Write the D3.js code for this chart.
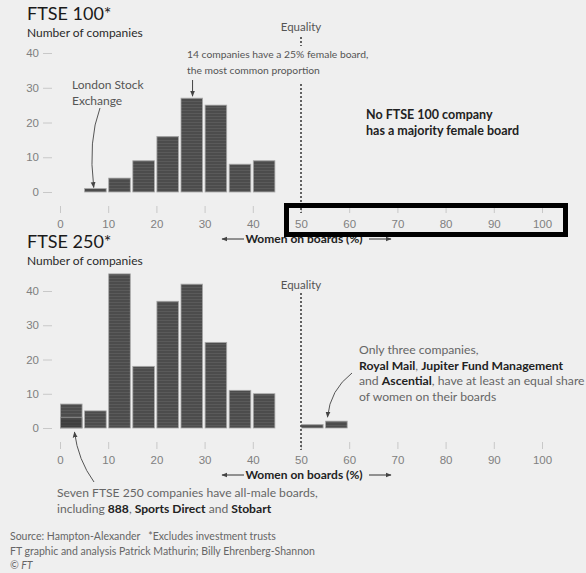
<!DOCTYPE html>
<html>
<head>
<meta charset="utf-8">
<script src="https://cdn.jsdelivr.net/npm/d3@7"></script>
<style>
  body { margin: 0; background: #efefef; }
  svg { display: block; font-family: Lato, 'Open Sans', sans-serif; }
  .tick line { stroke: #c8c8c8; }
  .tick text { fill: #808080; font-size: 11.5px; }
</style>
</head>
<body>
<script>
const width = 586
const height = 573

// bins of 5 percentage points of women on boards
const binStarts = [0, 5, 10, 15, 20, 25, 30, 35, 40, 45, 50, 55]
const ftse100Counts = [0, 1, 4, 9, 16, 27, 25, 8, 9, 0, 0, 0]
const ftse250Counts = [7, 5, 45, 18, 37, 42, 25, 11, 10, 0, 1, 2]
const namedAllMale = 3 // 888, Sports Direct, Stobart inside the 0-5 bin
const xTicks = [0, 10, 20, 30, 40, 50, 60, 70, 80, 90, 100]
const yTicks = [0, 10, 20, 30, 40]
const equality = 50

const x = d3.scaleLinear().domain([0, 100]).range([60, 542])

const svg = d3.select('body').append('svg')
  .attr('width', width)
  .attr('height', height)

svg.append('rect').attr('width', width).attr('height', height).attr('fill', '#efefef')

const defs = svg.append('defs')
const pat = defs.append('pattern')
  .attr('id', 'stripe')
  .attr('patternUnits', 'userSpaceOnUse')
  .attr('width', 4).attr('height', 3)
pat.append('rect').attr('width', 4).attr('height', 3).attr('fill', '#4c4c4c')
pat.append('rect').attr('y', 2).attr('width', 4).attr('height', 1).attr('fill', '#5a5a5a')

defs.append('marker')
  .attr('id', 'arrow')
  .attr('viewBox', '0 0 10 10')
  .attr('refX', 9).attr('refY', 5)
  .attr('markerWidth', 6).attr('markerHeight', 6)
  .attr('orient', 'auto')
  .append('path').attr('d', 'M0,1 L10,5 L0,9 Z').attr('fill', '#444')

function panel (counts, y0, y40, axisY, title, titleY) {
  const y = d3.scaleLinear().domain([0, 40]).range([y0, y40])

  svg.append('text').attr('x', 27).attr('y', titleY)
    .attr('font-size', 18).attr('fill', '#1a1a1a').text(title)
  svg.append('text').attr('x', 27).attr('y', titleY + 16.5)
    .attr('font-size', 12).attr('fill', '#2a2a2a').text('Number of companies')

  svg.append('g')
    .attr('transform', 'translate(52,0)')
    .call(d3.axisLeft(y).tickValues(yTicks).tickSize(9).tickPadding(4))
    .call(g => g.select('.domain').remove())

  svg.append('g')
    .attr('transform', 'translate(0,' + axisY + ')')
    .call(d3.axisBottom(x).tickValues(xTicks).tickSize(7).tickPadding(7))
    .call(g => g.select('.domain').remove())

  const data = binStarts.map((b, i) => ({ b: b, v: counts[i] })).filter(d => d.v > 0)
  svg.append('g').selectAll('rect')
    .data(data).enter().append('rect')
    .attr('x', d => x(d.b) + 0.5)
    .attr('width', d => x(d.b + 5) - x(d.b) - 2.5)
    .attr('y', d => y(d.v))
    .attr('height', d => y(0) - y(d.v))
    .attr('fill', 'url(#stripe)')
    .attr('stroke', '#a8a8a8')
    .attr('stroke-width', 0.8)

  // women on boards label
  const ly = axisY + 37
  svg.append('text').attr('x', 304).attr('y', ly)
    .attr('text-anchor', 'middle').attr('font-size', 12)
    .attr('font-weight', 'bold').attr('fill', '#222')
    .text('Women on boards (%)')
  svg.append('line').attr('x1', 244).attr('x2', 222).attr('y1', ly - 4).attr('y2', ly - 4)
    .attr('stroke', '#333').attr('marker-end', 'url(#arrow)')
  svg.append('line').attr('x1', 369).attr('x2', 391).attr('y1', ly - 4).attr('y2', ly - 4)
    .attr('stroke', '#333').attr('marker-end', 'url(#arrow)')
  return y
}

// ---- FTSE 100
const yTop = panel(ftse100Counts, 192, 53, 206, 'FTSE 100*', 20)

svg.append('text').attr('x', x(equality)).attr('y', 31).attr('text-anchor', 'middle')
  .attr('font-size', 11.5).attr('fill', '#555').text('Equality')
svg.append('line').attr('x1', x(equality)).attr('x2', x(equality)).attr('y1', 37).attr('y2', 46)
  .attr('stroke', '#333').attr('stroke-width', 1.5).attr('stroke-dasharray', '2,2')
svg.append('line').attr('x1', x(equality)).attr('x2', x(equality)).attr('y1', 84).attr('y2', 213)
  .attr('stroke', '#333').attr('stroke-width', 1.5).attr('stroke-dasharray', '2,2')

svg.append('text').attr('x', 187).attr('y', 58).attr('font-size', 10.3).attr('fill', '#555')
  .text('14 companies have a 25% female board,')
svg.append('text').attr('x', 187).attr('y', 74).attr('font-size', 10.3).attr('fill', '#555')
  .text('the most common proportion')
svg.append('path')
  .attr('d', 'M' + x(27.5) + ',80 L' + x(27.5) + ',' + (yTop(27) - 2))
  .attr('fill', 'none').attr('stroke', '#444').attr('marker-end', 'url(#arrow)')

svg.append('text').attr('x', 72).attr('y', 89).attr('font-size', 12).attr('fill', '#555').text('London Stock')
svg.append('text').attr('x', 72).attr('y', 105).attr('font-size', 12).attr('fill', '#555').text('Exchange')
svg.append('path')
  .attr('d', 'M100,108 Q88,140 ' + x(7) + ',' + (yTop(1) - 1))
  .attr('fill', 'none').attr('stroke', '#555').attr('marker-end', 'url(#arrow)')

svg.append('text').attr('x', 366).attr('y', 119).attr('font-size', 12.5).attr('font-weight', 'bold')
  .attr('fill', '#222').text('No FTSE 100 company')
svg.append('text').attr('x', 366).attr('y', 135).attr('font-size', 12.5).attr('font-weight', 'bold')
  .attr('fill', '#222').text('has a majority female board')

// ---- FTSE 250
const yBot = panel(ftse250Counts, 428, 291, 442, 'FTSE 250*', 248)

svg.append('rect')
  .attr('x', x(0) + 0.5).attr('width', x(5) - x(0) - 2.5)
  .attr('y', yBot(namedAllMale)).attr('height', yBot(0) - yBot(namedAllMale))
  .attr('fill', '#2e2e2e').attr('fill-opacity', 0.45)
  .attr('stroke', '#9a9a9a').attr('stroke-width', 0.8)

svg.append('text').attr('x', x(equality)).attr('y', 289).attr('text-anchor', 'middle')
  .attr('font-size', 11.5).attr('fill', '#555').text('Equality')
svg.append('line').attr('x1', x(equality)).attr('x2', x(equality)).attr('y1', 293).attr('y2', 450)
  .attr('stroke', '#333').attr('stroke-width', 1.5).attr('stroke-dasharray', '2,2')

const note = [
  [['Only three companies,', false]],
  [['Royal Mail', true], [', ', false], ['Jupiter Fund Management', true]],
  [['and ', false], ['Ascential', true], [', have at least an equal share', false]],
  [['of women on their boards', false]]
]
note.forEach((line, i) => {
  const t = svg.append('text').attr('x', 359).attr('y', 354 + i * 15.5).attr('font-size', 12.2)
  line.forEach(p => t.append('tspan').text(p[0])
    .attr('fill', p[1] ? '#222' : '#666').attr('font-weight', p[1] ? 'bold' : 'normal'))
})
svg.append('path')
  .attr('d', 'M352,373 Q330,390 ' + x(55.5) + ',' + (yBot(2) - 4))
  .attr('fill', 'none').attr('stroke', '#555').attr('marker-end', 'url(#arrow)')

svg.append('path')
  .attr('d', 'M94,482 Q78,460 ' + x(3) + ',' + (yBot(0) + 4))
  .attr('fill', 'none').attr('stroke', '#555').attr('marker-end', 'url(#arrow)')

const seven = [
  [['Seven FTSE 250 companies have all-male boards,', false]],
  [['including ', false], ['888', true], [', ', false], ['Sports Direct', true], [' and ', false], ['Stobart', true]]
]
seven.forEach((line, i) => {
  const t = svg.append('text').attr('x', 57).attr('y', 497 + i * 16).attr('font-size', 12.1)
  line.forEach(p => t.append('tspan').text(p[0])
    .attr('fill', p[1] ? '#222' : '#666').attr('font-weight', p[1] ? 'bold' : 'normal'))
})

// source
const src = ['Source: Hampton-Alexander   *Excludes investment trusts',
  'FT graphic and analysis Patrick Mathurin; Billy Ehrenberg-Shannon']
src.forEach((s, i) => {
  svg.append('text').attr('x', 10).attr('y', 540 + i * 15).attr('font-size', 10.5)
    .attr('fill', '#666').style('white-space', 'pre').text(s)
})
svg.append('text').attr('x', 10).attr('y', 569).attr('font-size', 10.5).attr('fill', '#666')
  .attr('font-style', 'italic').text('© FT')

// highlight box round the upper part of the top x axis
svg.append('rect')
  .attr('x', x(50) - 14.5).attr('y', 205.5)
  .attr('width', x(100) + 23.5 - (x(50) - 14.5)).attr('height', 29)
  .attr('fill', 'none').attr('stroke', '#000').attr('stroke-width', 5)
</script>
</body>
</html>
